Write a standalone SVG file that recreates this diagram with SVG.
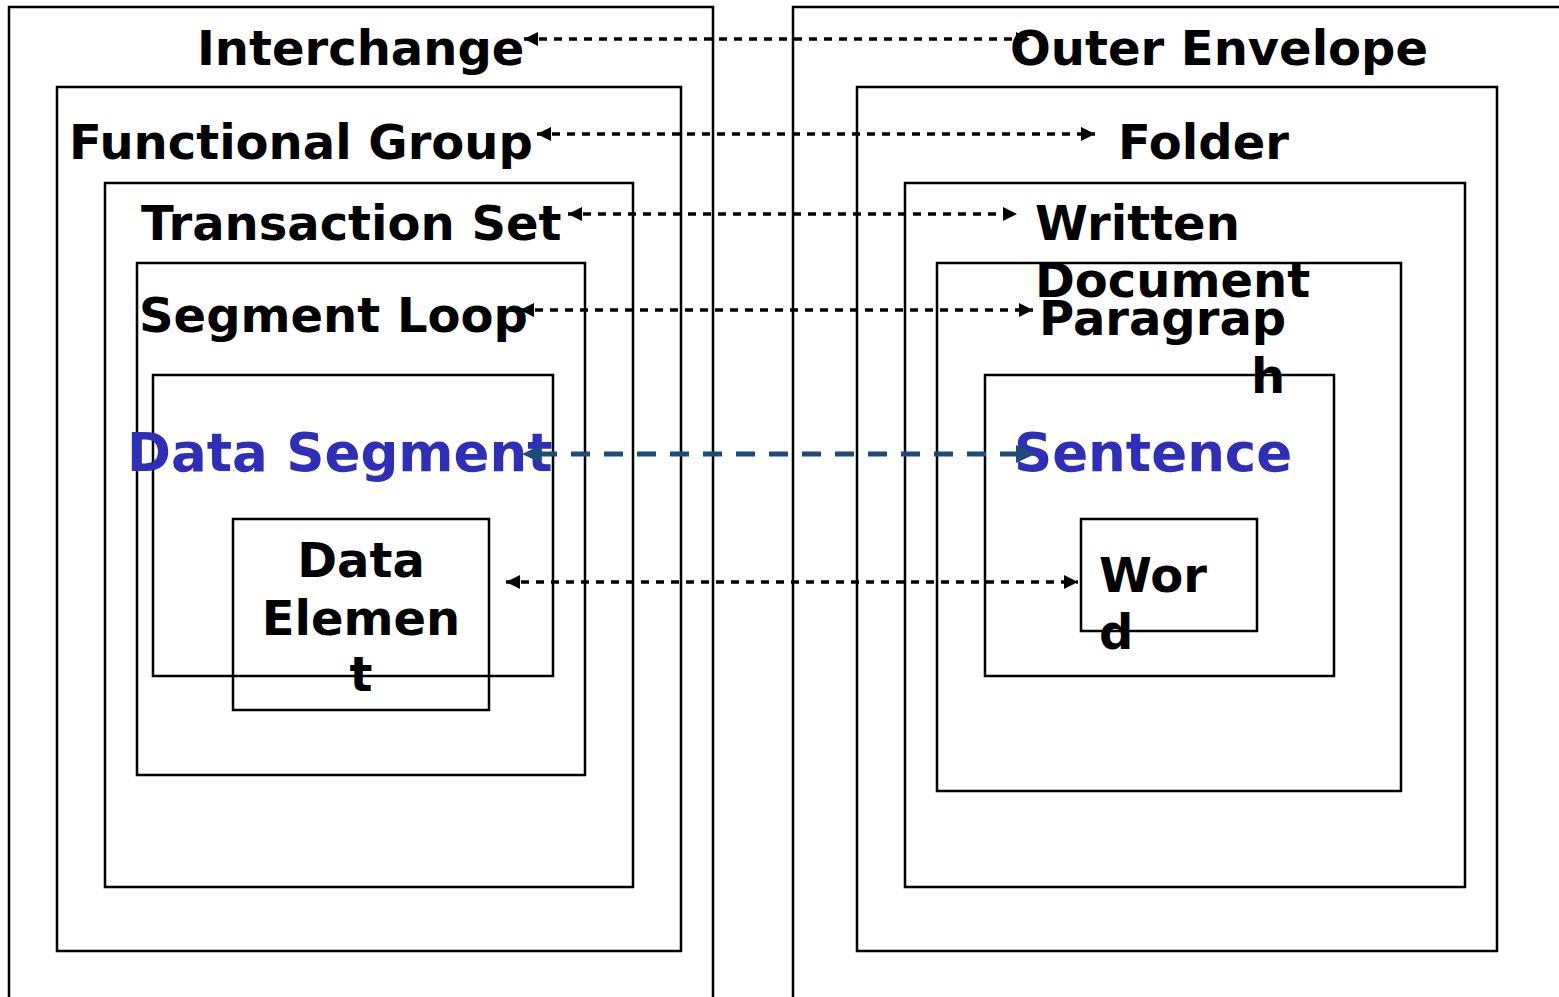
<svg xmlns="http://www.w3.org/2000/svg" width="1559" height="997" viewBox="0 0 1559 997">
  <style>
    .box { fill: none; stroke: #000; stroke-width: 2.5; }
    .lbl { font-family: "DejaVu Sans", "Liberation Sans", sans-serif; font-weight: bold; font-size: 48px; fill: #000; }
    .key { font-family: "DejaVu Sans", "Liberation Sans", sans-serif; font-weight: bold; font-size: 53px; fill: #2e2eb8; }
    .link { fill: none; stroke: #000; stroke-width: 3.5; stroke-dasharray: 8 7; }
    .main { fill: none; stroke: #1f4a7e; stroke-width: 5; stroke-dasharray: 19 14; }
    .mainhead { fill: #1f4a7e; stroke: none; }
  </style>
  <defs>
    <marker id="ah" viewBox="0 0 14 14" refX="14" refY="7" markerWidth="14" markerHeight="14" markerUnits="userSpaceOnUse" orient="auto-start-reverse">
      <path d="M0,0 L14,7 L0,14 Z" fill="#000"/>
    </marker>
  </defs>
  <rect width="1559" height="997" fill="#fff"/>

  <!-- EDI hierarchy (left) -->
  <g id="interchange">
    <rect class="box" x="9" y="7" width="704" height="1010"/>
    <text class="lbl" x="197" y="65">Interchange</text>
  </g>
  <g id="functional-group">
    <rect class="box" x="57" y="87" width="624" height="864"/>
    <text class="lbl" x="69" y="159">Functional Group</text>
  </g>
  <g id="transaction-set">
    <rect class="box" x="105" y="183" width="528" height="704"/>
    <text class="lbl" x="141" y="240">Transaction Set</text>
  </g>
  <g id="segment-loop">
    <rect class="box" x="137" y="263" width="448" height="512"/>
    <text class="lbl" x="139" y="332">Segment Loop</text>
  </g>
  <g id="data-segment">
    <rect class="box" x="153" y="375" width="400" height="301"/>
    <text class="key" x="127" y="471">Data Segment</text>
  </g>
  <g id="data-element">
    <rect class="box" x="233" y="519" width="256" height="191"/>
    <text class="lbl" x="361" y="577" text-anchor="middle">Data</text>
    <text class="lbl" x="361" y="635" text-anchor="middle">Elemen</text>
    <text class="lbl" x="361" y="691" text-anchor="middle">t</text>
  </g>

  <!-- Document hierarchy (right) -->
  <g id="outer-envelope">
    <rect class="box" x="793" y="7" width="860" height="1010"/>
    <text class="lbl" x="1010" y="65">Outer Envelope</text>
  </g>
  <g id="folder">
    <rect class="box" x="857" y="87" width="640" height="864"/>
    <text class="lbl" x="1118" y="159">Folder</text>
  </g>
  <g id="written-document">
    <rect class="box" x="905" y="183" width="560" height="704"/>
    <text class="lbl" x="1035" y="240">Written</text>
    <text class="lbl" x="1035" y="297">Document</text>
  </g>
  <g id="paragraph">
    <rect class="box" x="937" y="263" width="464" height="528"/>
    <text class="lbl" x="1039" y="335">Paragrap</text>
    <text class="lbl" x="1251" y="393">h</text>
  </g>
  <g id="sentence">
    <rect class="box" x="985" y="375" width="349" height="301"/>
    <text class="key" x="1014" y="471">Sentence</text>
  </g>
  <g id="word">
    <rect class="box" x="1081" y="519" width="176" height="112"/>
    <text class="lbl" x="1099" y="592">Wor</text>
    <text class="lbl" x="1099" y="649">d</text>
  </g>

  <!-- correspondences between levels -->
  <g id="connectors">
    <line class="link" x1="524" y1="39" x2="1030" y2="39" marker-start="url(#ah)" marker-end="url(#ah)"/>
    <line class="link" x1="537" y1="134" x2="1095" y2="134" marker-start="url(#ah)" marker-end="url(#ah)"/>
    <line class="link" x1="568" y1="214" x2="1017" y2="214" marker-start="url(#ah)" marker-end="url(#ah)"/>
    <line class="link" x1="520" y1="310" x2="1033" y2="310" marker-start="url(#ah)" marker-end="url(#ah)"/>
    <line class="link" x1="506" y1="582" x2="1078" y2="582" marker-start="url(#ah)" marker-end="url(#ah)"/>
    <g id="main-link">
      <line class="main" x1="538" y1="454" x2="1018" y2="454"/>
      <path class="mainhead" d="M522,454 L541,445 L541,463 Z"/>
      <path class="mainhead" d="M1035,454 L1016,445 L1016,463 Z"/>
    </g>
  </g>
</svg>
